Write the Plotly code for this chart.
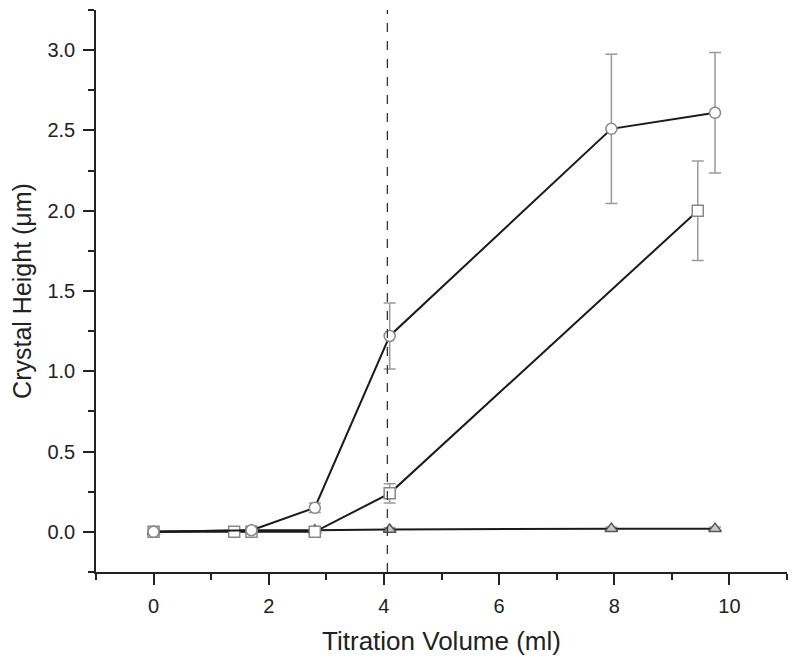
import plotly.graph_objects as go

# Series: circles
circ_x = [0, 1.7, 2.8, 4.1, 7.95, 9.75]
circ_y = [0.0, 0.01, 0.15, 1.22, 2.51, 2.61]
circ_err = [0.0, 0.01, 0.03, 0.205, 0.465, 0.375]

# Series: squares
sq_x = [0, 1.4, 1.7, 2.8, 4.1, 9.45]
sq_y = [0.0, 0.0, 0.0, 0.0, 0.24, 2.0]
sq_err = [0.0, 0.0, 0.0, 0.0, 0.06, 0.31]

# Series: triangles
tri_x = [0, 1.7, 2.8, 4.1, 7.95, 9.75]
tri_y = [0.0, 0.01, 0.01, 0.015, 0.02, 0.02]
tri_err = [0.0, 0.01, 0.01, 0.01, 0.01, 0.01]

vline_x = 4.06

x_tick_vals = [0, 2, 4, 6, 8, 10]
y_tick_vals = [0.0, 0.5, 1.0, 1.5, 2.0, 2.5, 3.0]
y_tick_text = ["0.0", "0.5", "1.0", "1.5", "2.0", "2.5", "3.0"]

fig = go.Figure()

def add_series(x, y, err, symbol, fill, mcolor):
    fig.add_trace(go.Scatter(
        x=x, y=y, mode="lines+markers",
        line=dict(color="#1a1a1a", width=2),
        marker=dict(symbol=symbol, size=11, color=fill,
                    line=dict(color=mcolor, width=1.5)),
        error_y=dict(type="data", array=err, visible=True,
                     color="#9a9a9a", thickness=1.5, width=6),
        showlegend=False, cliponaxis=False,
    ))

add_series(tri_x, tri_y, tri_err, "triangle-up", "#c8c8c8", "#555555")
add_series(sq_x, sq_y, sq_err, "square", "white", "#888888")
add_series(circ_x, circ_y, circ_err, "circle", "white", "#888888")

fig.add_shape(type="line", xref="x", yref="paper", x0=vline_x, x1=vline_x,
              y0=0, y1=1, line=dict(color="#333333", width=1.3, dash="dash"))

font_family = "Liberation Sans, Arial, sans-serif"

fig.update_layout(
    width=792, height=653,
    margin=dict(l=88, r=13, t=2, b=89, autoexpand=False),
    plot_bgcolor="white", paper_bgcolor="white",
    font=dict(family=font_family, color="#222222", size=20),
    xaxis=dict(
        range=[-1, 11], showgrid=False, zeroline=False, automargin=False,
        showline=True, linecolor="#222222", linewidth=1.5,
        tickmode="array", tickvals=x_tick_vals,
        ticks="outside", ticklen=11, tickwidth=1.5, tickcolor="#222222",
        ticklabelstandoff=4,
        minor=dict(dtick=1, tick0=0, ticks="outside", ticklen=6,
                   tickwidth=1.5, tickcolor="#222222"),
        title=dict(text="Titration Volume (ml)", font=dict(size=26), standoff=16),
        tickfont=dict(size=20),
    ),
    yaxis=dict(
        range=[-0.25, 3.25], showgrid=False, zeroline=False, automargin=False,
        showline=True, linecolor="#222222", linewidth=1.5,
        tickmode="array", tickvals=y_tick_vals, ticktext=y_tick_text,
        ticks="outside", ticklen=11, tickwidth=1.5, tickcolor="#222222",
        ticklabelstandoff=4,
        minor=dict(dtick=0.25, tick0=0, ticks="outside", ticklen=6,
                   tickwidth=1.5, tickcolor="#222222"),
        title=dict(text="Crystal Height (\u03bcm)", font=dict(size=25), standoff=12),
        tickfont=dict(size=20),
    ),
)

fig.write_html("out.html")
